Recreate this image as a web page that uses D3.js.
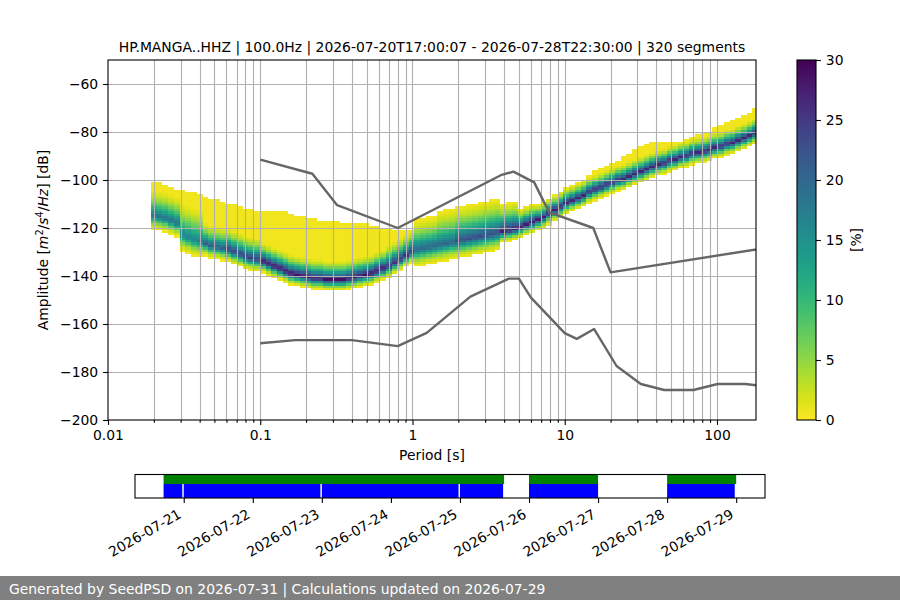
<!DOCTYPE html>
<html><head><meta charset="utf-8">
<script src="https://cdn.jsdelivr.net/npm/d3@7"></script>
<style>body{margin:0;background:#fff}svg{display:block;font-family:"DejaVu Sans",sans-serif}</style>
</head><body><svg id="c" width="900" height="600"></svg>
<script>
// ---------- DATA ----------
const titleText = "HP.MANGA..HHZ | 100.0Hz | 2026-07-20T17:00:07 - 2026-07-28T22:30:00 | 320 segments";
const footerText = "Generated by SeedPSD on 2026-07-31 | Calculations updated on 2026-07-29";

// period bins: 1/8 octave steps starting at 0.02 s
const firstPeriod = 0.02, binsPerOctave = 8;
// dB bins
const dbMin = -200, dbMax = -50, dbStep = 1;

// per period bin: mode of the histogram (dB)
const modeDb = [
-115,-115.5,-116,-117,-118,-123,-124,-125,-125.5,-126.5,
-127.5,-128,-128.5,-129,-130,-131,-132,-132.5,-133,-134,
-135,-136,-137,-138,-139,-139.5,-140,-140.5,-141,-141,
-141.5,-141.5,-141.5,-141.5,-141,-140.5,-140,-139.5,-139,-138,
-137,-136,-134.5,-133,-131.5,-130,-129,-128.5,-128,-127.5,
-127,-126.5,-126,-125.5,-125,-124.5,-124,-123.5,-123,-122.5,
-122,-121.5,-121,-120.5,-119.5,-118.5,-117.5,-116.5,-115.5,-114,
-112.5,-111,-109.5,-108.5,-107.5,-106.5,-105,-104,-103,-102,
-101,-100,-99.5,-98.5,-97.5,-96.5,-95.5,-94.5,-93.5,-93,
-92,-91.5,-90.5,-90,-89,-88.5,-88,-87.5,-86.5,-86,
-85,-84.5,-83.5,-82.5,-81.5,-80.5];
// per period bin: percentage at the mode
const peakPct = [
19,19,19,19,19,17,17,17,17,21,
21,21,21,25,25,25,25,25,25,29,
29,29,29,29,29,29,29,29,29,29,
29,29,29,29,29,29,29,29,29,29,
29,26,26,26,26,26,20,20,20,20,
20,20,20,23,23,23,23,23,23,23,
23,28,28,28,28,28,28,28,28,28,
28,28,28,27,27,27,27,27,27,27,
27,27,27,27,27,27,27,27,27,27,
27,27,27,27,27,27,27,27,27,27,
27,27,27,27,27,27];
// per period bin: spread of the band below / above the mode (dB per profile step)
const spreadBelow = [
1,1,1,1,1,1.2,1.2,1.2,1.2,0.9,
0.9,0.9,0.9,0.9,0.9,0.9,0.9,0.9,0.9,0.8,
0.8,0.8,0.8,0.8,0.8,0.8,0.8,0.8,0.8,0.8,
0.8,0.8,0.8,0.8,0.8,0.8,0.8,0.8,0.8,0.8,
0.8,0.8,0.8,0.8,0.8,0.8,1.3,1.3,1.3,1.3,
1.3,1.3,1.3,1.3,1.3,1.3,1.3,1.3,1.3,1.3,
1.3,0.8,0.8,0.8,0.8,0.8,0.8,0.8,0.8,0.8,
0.8,0.8,0.8,0.8,0.8,0.8,0.8,0.8,0.8,0.8,
0.8,0.8,0.8,0.8,0.8,0.8,0.8,0.8,0.8,0.8,
0.8,0.8,0.8,0.8,0.8,0.8,0.8,0.8,0.8,0.8,
0.8,0.8,0.8,0.8,0.8,0.8];
const spreadAbove = [
2,2,2,2,2,2.5,2.5,2.5,2.5,1.6,
1.6,1.6,1.6,1.6,1.6,1.6,1.6,1.6,1.6,1.4,
1.4,1.4,1.4,1.4,1.4,1.4,1.4,1.4,1.4,1.4,
1.4,1.4,1.4,1.4,1.4,1.4,1.4,1.4,1.4,1.4,
1.4,1.6,1.6,1.6,1.6,1.6,2.2,2.2,2.2,2.2,
2.5,2.5,2.5,2.5,2.5,2.5,2.5,2.5,2.5,2.5,
2.5,2,2,2,1.3,1.3,1.3,1.1,1.1,1.1,
1.1,1.1,1.1,1.1,1.1,1.1,1.1,1.1,1.1,1.1,
1.1,1.1,1.1,1.1,1.1,1.1,1.1,1.1,1.1,1.1,
1.1,1.1,1.1,1.1,1.1,1.1,1.1,1.1,1.1,1.1,
1.1,1.1,1.1,1.1,1.1,1.1];
// per period bin: top of the sparse low-occurrence tail above the band (dB), null = none
const tailTop = [
-101,-101.5,-102,-103,-104,-104.5,-105,-105.5,-106,-107,
-108,-108.5,-109,-110,-110.5,-111,-112,-112.5,-113,-113,
-113,-113,-113,-113.5,-114,-115,-115.5,-116,-116.5,-117,
-117,-117.5,-117.5,-118,-118,-118,-118,-118.5,-119,-119.5,
-120,-120.5,-121,-121,-121.5,-121.5,-121,-120,-119,-118,
-117,-116,-115,-114,-113,-112,-111,-110.5,-110.5,-111,
-111.5,-112.5,-113.5,-115,-116,-116.5,null,null,null,null,
null,null,null,null,null,null,-98,-96,-95,-94,
-93.5,-92,-90.5,-89.5,-87.5,-86.5,-85.5,-84.5,-84.5,-84.5,
-84,-84,-84,-83,-82.5,-81.5,-80.5,-80,-78.5,-77,
-76,-75.5,-74.5,-73.5,-72,-70.5];
const tailPct = 0.6;
// relative occurrence profile away from the mode (fraction of peak per step)
const bandShape = [1, 0.75, 0.5, 0.3, 0.15, 0.06, 0];

// Peterson noise models
const nhnmPeriods = [0.1,0.22,0.32,0.8,3.8,4.6,6.3,7.9,15.4,20,354.8];
const nhnmDb = [-91.5,-97.4,-110.5,-120.0,-98.0,-96.5,-101.0,-113.5,-120.0,-138.5,-126.0];
const nlnmPeriods = [0.1,0.17,0.4,0.8,1.24,2.4,4.3,5.0,6.0,10.0,12.0,15.6,21.9,31.6,45.0,70.0,101.0,154.0,328.0];
const nlnmDb = [-168.0,-166.7,-166.7,-169.2,-163.7,-148.6,-141.1,-141.1,-149.0,-163.8,-166.2,-162.1,-177.5,-185.0,-187.5,-187.5,-185.0,-185.0,-187.5];

// axis ticks
const xMajorTicks = [0.01,0.1,1,10,100];
const xMajorLabels = ["0.01","0.1","1","10","100"];
const yTicks = [-200,-180,-160,-140,-120,-100,-80,-60];
const cbTicks = [0,5,10,15,20,25,30];
const colorMax = 30;

// time coverage
const dataStarts = ["2026-07-20T17:00:07Z","2026-07-26T00:00:00Z","2026-07-28T00:00:00Z"];
const dataEnds   = ["2026-07-25T15:20:00Z","2026-07-27T00:00:00Z","2026-07-29T00:00:00Z"];
const psdStarts = ["2026-07-20T17:00:00Z","2026-07-21T00:00:00Z","2026-07-23T00:00:00Z","2026-07-25T00:00:00Z","2026-07-26T00:00:00Z","2026-07-28T00:00:00Z"];
const psdEnds   = ["2026-07-20T23:30:00Z","2026-07-22T23:30:00Z","2026-07-24T23:30:00Z","2026-07-25T15:00:00Z","2026-07-27T00:00:00Z","2026-07-28T23:30:00Z"];
const timeTicks = ["2026-07-21","2026-07-22","2026-07-23","2026-07-24","2026-07-25","2026-07-26","2026-07-27","2026-07-28","2026-07-29"];
const timeDomain = ["2026-07-20T07:04:00Z","2026-07-29T10:01:00Z"];

// ---------- DRAW ----------
const W = 900, H = 600, FS = 13.9;
const P = {l:108, r:756, t:60, b:420};
const svg = d3.select('#c');
svg.append('rect').attr('width',W).attr('height',H).attr('fill','#fff');

const x = d3.scaleLog().domain([0.01,180.4]).range([P.l,P.r]);
const y = d3.scaleLinear().domain([dbMin,dbMax]).range([P.b,P.t]);
const color = v => d3.interpolateViridis(1 - Math.min(v,colorMax)/colorMax);

const defs = svg.append('defs');
defs.append('clipPath').attr('id','clip').append('rect')
  .attr('x',P.l).attr('y',P.t).attr('width',P.r-P.l).attr('height',P.b-P.t);

const periods = modeDb.map((_,k) => firstPeriod*Math.pow(2,k/binsPerOctave));
const half = Math.pow(2, 1/(2*binsPerOctave));
function shapeAt(s){
  if (s >= bandShape.length-1) return 0;
  const i = Math.floor(s), f = s - i;
  return bandShape[i]*(1-f) + bandShape[i+1]*f;
}
const cells = [];
periods.forEach((p,k) => {
  for (let b = dbMin; b < dbMax; b += dbStep) {
    const c = b + dbStep/2, d = c - modeDb[k];
    const sc = d < 0 ? spreadBelow[k] : spreadAbove[k];
    let v = peakPct[k]*shapeAt(Math.abs(d)/sc);
    if (v < 0.35) {
      if (d > 0 && tailTop[k] !== null && c <= tailTop[k]) v = tailPct; else continue;
    }
    cells.push({p, b, v});
  }
});
const gPlot = svg.append('g').attr('clip-path','url(#clip)');
gPlot.selectAll('rect.cell').data(cells).join('rect').attr('class','cell')
  .attr('x', d => x(d.p/half))
  .attr('width', d => x(d.p*half) - x(d.p/half))
  .attr('y', d => y(d.b+dbStep))
  .attr('height', d => y(d.b) - y(d.b+dbStep))
  .attr('fill', d => color(d.v))
  .attr('shape-rendering','crispEdges');

// grid
const xGrid = [];
[0.01,0.1,1,10,100].forEach(dec => { for (let m=1;m<=9;m++){ const v=dec*m; if (v>0.0100001 && v<180) xGrid.push(v);} });
const xMinor = xGrid.filter(v => !xMajorTicks.some(t => Math.abs(t-v)/t < 1e-6));
gPlot.selectAll('line.vg').data(xGrid).join('line').attr('class','vg')
  .attr('x1',d=>Math.round(x(d))+0.5).attr('x2',d=>Math.round(x(d))+0.5).attr('y1',P.t).attr('y2',P.b)
  .attr('stroke','#b0b0b0').attr('stroke-width',1.1);
gPlot.selectAll('line.hg').data(yTicks.filter(v=>v>dbMin)).join('line').attr('class','hg')
  .attr('y1',d=>Math.round(y(d))+0.5).attr('y2',d=>Math.round(y(d))+0.5).attr('x1',P.l).attr('x2',P.r)
  .attr('stroke','#b0b0b0').attr('stroke-width',1.1);

// noise models
const line = d3.line().x(d=>x(d[0])).y(d=>y(d[1]));
[[nhnmPeriods,nhnmDb],[nlnmPeriods,nlnmDb]].forEach(([ps,ds]) => {
  gPlot.append('path').datum(ps.map((p,i)=>[p,ds[i]])).attr('d',line)
    .attr('fill','none').attr('stroke','#666666').attr('stroke-width',2.4).attr('stroke-linejoin','round');
});

// axes
function styleAxis(g){
  g.select('.domain').remove();
  g.selectAll('line').attr('stroke','#000').attr('stroke-width',1.1);
  g.selectAll('text').attr('font-size',FS).attr('font-family','DejaVu Sans').attr('fill','#000');
}
svg.append('g').attr('transform',`translate(0,${P.b})`)
  .call(d3.axisBottom(x).tickValues(xMajorTicks).tickFormat((d,i)=>xMajorLabels[i]).tickSizeInner(4.9).tickSizeOuter(0).tickPadding(4.9))
  .call(styleAxis);
svg.append('g').attr('transform',`translate(0,${P.b})`)
  .call(d3.axisBottom(x).tickValues(xMinor).tickFormat('').tickSizeInner(2.8).tickSizeOuter(0))
  .call(styleAxis);
svg.append('g').attr('transform',`translate(${P.l},0)`)
  .call(d3.axisLeft(y).tickValues(yTicks).tickSizeInner(4.9).tickSizeOuter(0).tickPadding(4.9))
  .call(styleAxis);
svg.append('rect').attr('x',P.l).attr('y',P.t).attr('width',P.r-P.l).attr('height',P.b-P.t)
  .attr('fill','none').attr('stroke','#000').attr('stroke-width',1.1);

// title & labels
svg.append('text').attr('x',(P.l+P.r)/2).attr('y',52).attr('text-anchor','middle')
  .attr('font-size',FS).text(titleText);
svg.append('text').attr('x',(P.l+P.r)/2).attr('y',460).attr('text-anchor','middle')
  .attr('font-size',FS).text('Period [s]');
const yl = svg.append('text').attr('transform','translate(48,240) rotate(-90)')
  .attr('text-anchor','middle').attr('font-size',FS);
yl.append('tspan').text('Amplitude [');
yl.append('tspan').attr('font-style','italic').text('m');
yl.append('tspan').attr('font-size',FS*0.7).attr('dy',-5).text('2');
yl.append('tspan').attr('dy',5).text('/');
yl.append('tspan').attr('font-style','italic').text('s');
yl.append('tspan').attr('font-size',FS*0.7).attr('dy',-5).text('4');
yl.append('tspan').attr('dy',5).text('/');
yl.append('tspan').attr('font-style','italic').text('Hz');
yl.append('tspan').text('] [dB]');

// colorbar
const CB = {x:797, w:19, t:60, b:420};
const grad = defs.append('linearGradient').attr('id','cbg').attr('x1',0).attr('y1',1).attr('x2',0).attr('y2',0);
d3.range(0,1.0001,0.05).forEach(f => grad.append('stop').attr('offset',f).attr('stop-color',color(f*colorMax)));
svg.append('rect').attr('x',CB.x).attr('y',CB.t).attr('width',CB.w).attr('height',CB.b-CB.t).attr('fill','url(#cbg)');
const cs = d3.scaleLinear().domain([0,colorMax]).range([CB.b,CB.t]);
svg.append('g').attr('transform',`translate(${CB.x+CB.w},0)`)
  .call(d3.axisRight(cs).tickValues(cbTicks).tickFormat(d3.format('d')).tickSizeInner(4.9).tickSizeOuter(0).tickPadding(4.9))
  .call(styleAxis);
svg.append('rect').attr('x',CB.x).attr('y',CB.t).attr('width',CB.w).attr('height',CB.b-CB.t)
  .attr('fill','none').attr('stroke','#000').attr('stroke-width',1.1);
svg.append('text').attr('transform','translate(861,240) rotate(-90)').attr('text-anchor','middle')
  .attr('font-size',FS).text('[%]');

// time coverage axes
const T = {l:135, r:765, t:474.5, b:498, mid:484};
const t = d3.scaleUtc().domain(timeDomain.map(d=>new Date(d))).range([T.l,T.r]);
svg.selectAll('rect.cov').data(dataStarts.map((s,i)=>[new Date(s),new Date(dataEnds[i])])).join('rect').attr('class','cov')
  .attr('x',d=>t(d[0])).attr('width',d=>t(d[1])-t(d[0])).attr('y',T.t).attr('height',T.mid-T.t).attr('fill','#008000');
svg.selectAll('rect.psd').data(psdStarts.map((s,i)=>[new Date(s),new Date(psdEnds[i])])).join('rect').attr('class','psd')
  .attr('x',d=>t(d[0])).attr('width',d=>t(d[1])-t(d[0])).attr('y',T.mid).attr('height',T.b-T.mid).attr('fill','#0000ff');
svg.append('rect').attr('x',T.l).attr('y',T.t).attr('width',T.r-T.l).attr('height',T.b-T.t)
  .attr('fill','none').attr('stroke','#000').attr('stroke-width',1.1);
const tg = svg.append('g').attr('transform',`translate(0,${T.b})`)
  .call(d3.axisBottom(t).tickValues(timeTicks.map(d=>new Date(d+'T00:00:00Z'))).tickFormat(d3.utcFormat('%Y-%m-%d')).tickSizeInner(4.9).tickSizeOuter(0))
  .call(styleAxis);
tg.selectAll('text').attr('x',0).attr('y',0).attr('dy',null)
  .attr('text-anchor','end').attr('transform','translate(-2,19) rotate(-30)');

// footer
svg.append('rect').attr('x',0).attr('y',576).attr('width',W).attr('height',24).attr('fill','#808080');
svg.append('text').attr('x',9).attr('y',594).attr('font-size',FS).attr('fill','#fff').text(footerText);
</script></body></html>
